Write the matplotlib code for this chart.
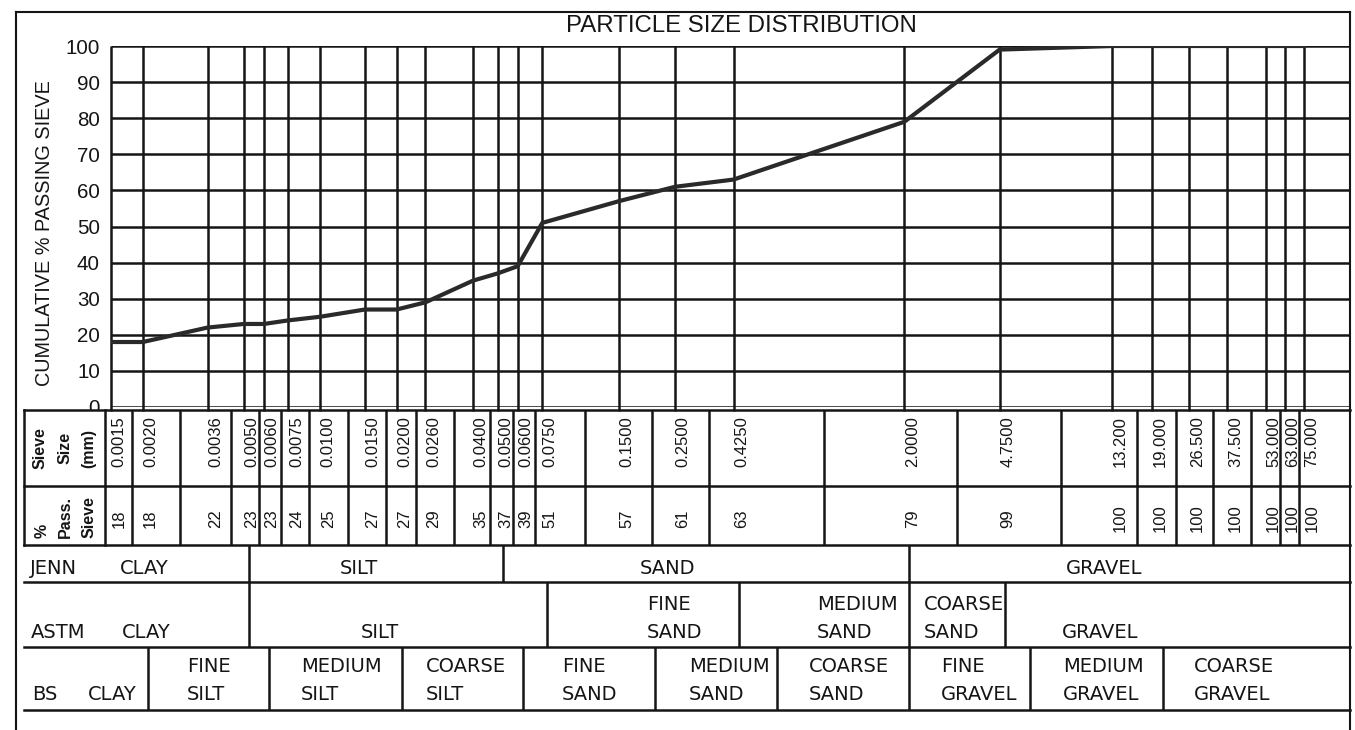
import numpy as np
import matplotlib
matplotlib.use('Agg')
import matplotlib.pyplot as plt
import matplotlib.transforms as mtransforms
from matplotlib.ticker import NullLocator
from matplotlib.patches import Rectangle

# ---------------- data ----------------
sieve_mm = [0.0015, 0.0020, 0.0036, 0.0050, 0.0060, 0.0075, 0.0100, 0.0150,
            0.0200, 0.0260, 0.0400, 0.0500, 0.0600, 0.0750, 0.1500, 0.2500,
            0.4250, 2.0000, 4.7500, 13.200, 19.000, 26.500, 37.500, 53.000,
            63.000, 75.000]
sieve_labels = ['0.0015', '0.0020', '0.0036', '0.0050', '0.0060', '0.0075',
                '0.0100', '0.0150', '0.0200', '0.0260', '0.0400', '0.0500',
                '0.0600', '0.0750', '0.1500', '0.2500', '0.4250', '2.0000',
                '4.7500', '13.200', '19.000', '26.500', '37.500', '53.000',
                '63.000', '75.000']
pct_passing = [18, 18, 22, 23, 23, 24, 25, 27, 27, 29, 35, 37, 39, 51, 57, 61,
               63, 79, 99, 100, 100, 100, 100, 100, 100, 100]
y_ticks = [0, 10, 20, 30, 40, 50, 60, 70, 80, 90, 100]

jenn_bounds = [0.005, 0.05, 2.0]
astm_bounds = [0.005, 0.075, 0.425, 2.0, 4.75]
bs_bounds = [0.002, 0.006, 0.02, 0.06, 0.2, 0.6, 2.0, 6.0, 20.0]

title = 'PARTICLE SIZE DISTRIBUTION'
ylabel = 'CUMULATIVE % PASSING SIEVE'

# ---------------- layout ----------------
plt.rcParams['font.family'] = ['Liberation Sans', 'DejaVu Sans']
W, H = 1355, 730
fig = plt.figure(figsize=(W / 100, H / 100), dpi=100)
fig.patch.set_facecolor('white')
LC = '#151515'
GW = 1.8


def fx(px):
    return px / W


def fy(py):
    return 1 - py / H


PL, PR, PT, PB = 111, 1350, 46, 407
XMIN, XMAX = 0.0015, 114

ax = fig.add_axes([fx(PL), fy(PB), fx(PR) - fx(PL), fy(PT) - fy(PB)])
ax.set_zorder(1)
ax.set_xscale('log')
ax.set_xlim(XMIN, XMAX)
ax.set_ylim(0, 100)
for s in ax.spines.values():
    s.set_visible(False)
ax.set_xticks([])
ax.xaxis.set_minor_locator(NullLocator())
ax.set_yticks(y_ticks)
ax.tick_params(axis='y', length=0, pad=8, labelsize=14.8, colors=LC)
ax.patch.set_visible(False)

ax.hlines(y_ticks, XMIN, XMAX, color=LC, lw=GW, zorder=1)
ax.vlines(sieve_mm, -1, 100, color=LC, lw=GW, zorder=1, clip_on=False)
ax.plot(sieve_mm, pct_passing, color='#2a2a2a', lw=3.0,
        solid_joinstyle='round', zorder=3)

# table axes: same log scale, shifted slightly right
SHIFT = 5
tax = fig.add_axes([fx(PL + SHIFT), 0, fx(PR) - fx(PL), 1])
tax.set_zorder(2)
tax.set_xscale('log')
tax.set_xlim(XMIN, XMAX)
tax.set_ylim(H, 0)
tax.set_axis_off()
tax.patch.set_visible(False)

# layout axes in pixels
lay = fig.add_axes([0, 0, 1, 1])
lay.set_zorder(3)
lay.set_xlim(0, W)
lay.set_ylim(H, 0)
lay.set_axis_off()
lay.patch.set_visible(False)

T0, T1, T2, R1, R2, R3 = 410, 486, 545, 582, 647, 710
TL, TC, TR = 24, 105, 1350

# white box for label column (covers the bottom of the "0" tick)
lay.add_patch(Rectangle((TL, T0), TC - TL, T2 - T0, facecolor='white',
                        edgecolor='none', zorder=1))

# outer frame
lay.plot([16, 16], [12, H], color=LC, lw=1.5)
lay.plot([16, TR], [12, 12], color=LC, lw=1.5)
lay.plot([TR, TR], [12, H], color=LC, lw=1.5)

# table horizontal lines
for yy in (T0, T1, T2, R1, R2, R3):
    lay.plot([TL, TR], [yy, yy], color=LC, lw=GW, zorder=2)
lay.plot([TL, TL], [T0, T2], color=LC, lw=GW, zorder=2)
lay.plot([TC, TC], [T0, T2], color=LC, lw=GW, zorder=2)

# table column boundaries (geometric midpoints)
sv = np.array(sieve_mm)
mids = np.sqrt(sv[:-1] * sv[1:])
tax.vlines(mids, T0, T2, color=LC, lw=GW, clip_on=False)

# classification boundaries
tax.vlines(jenn_bounds, T2, R1, color=LC, lw=GW, clip_on=False)
tax.vlines(astm_bounds, R1, R2, color=LC, lw=GW, clip_on=False)
tax.vlines(bs_bounds, R2, R3, color=LC, lw=GW, clip_on=False)

# sieve texts
toff = mtransforms.offset_copy(tax.transData, fig=fig, x=3, y=0, units='dots')
for s, lab, p in zip(sieve_mm, sieve_labels, pct_passing):
    tax.text(s, T0 + 6, lab, rotation=90, ha='center', va='top',
             fontsize=12, color=LC, transform=toff, clip_on=False)
    tax.text(s, (T1 + T2) / 2 + 3, str(p), rotation=90, ha='center',
             va='center', fontsize=12, color=LC, transform=toff,
             clip_on=False)

# header texts
for xx, t in ((40, 'Sieve'), (65, 'Size'), (89, '(mm)')):
    lay.text(xx, (T0 + T1) / 2, t, rotation=90, ha='center', va='center',
             fontsize=11.5, fontweight='bold', color=LC)
for xx, t in ((42, '%'), (65, 'Pass.'), (89, 'Sieve')):
    lay.text(xx, T2 - 7, t, rotation=90, ha='center', va='bottom',
             fontsize=11.5, fontweight='bold', color=LC)

# classification labels
CF = dict(family=['DejaVu Sans'], fontsize=14, color=LC, ha='left',
          va='center')
j_y = R1 - 14
for xx, t in ((30, 'JENN'), (120, 'CLAY'), (340, 'SILT'), (640, 'SAND'),
              (1066, 'GRAVEL')):
    lay.text(xx, j_y, t, **CF)

a2 = R2 - 15
a1 = R2 - 43
for xx, t in ((31, 'ASTM'), (122, 'CLAY'), (361, 'SILT'), (1062, 'GRAVEL')):
    lay.text(xx, a2, t, **CF)
for xx, t1, t2 in ((647, 'FINE', 'SAND'), (817, 'MEDIUM', 'SAND'),
                   (924, 'COARSE', 'SAND')):
    lay.text(xx, a1, t1, **CF)
    lay.text(xx, a2, t2, **CF)

b2 = R3 - 16
b1 = R3 - 44
for xx, t in ((32, 'BS'), (88, 'CLAY')):
    lay.text(xx, R3 - 15, t, **CF)
for xx, t1, t2 in ((187, 'FINE', 'SILT'), (301, 'MEDIUM', 'SILT'),
                   (426, 'COARSE', 'SILT'), (562, 'FINE', 'SAND'),
                   (689, 'MEDIUM', 'SAND'), (809, 'COARSE', 'SAND'),
                   (941, 'FINE', 'GRAVEL'), (1063, 'MEDIUM', 'GRAVEL'),
                   (1194, 'COARSE', 'GRAVEL')):
    lay.text(xx, b1, t1, **CF)
    lay.text(xx, b2, t2, **CF)

# title and axis label
lay.text(741, 26, title, ha='center', va='center', fontsize=17.3, color=LC)
lay.text(45, 233, ylabel, rotation=90, ha='center', va='center',
         fontsize=14.3, color=LC)

fig.savefig('out.png', dpi=100, facecolor='white')
